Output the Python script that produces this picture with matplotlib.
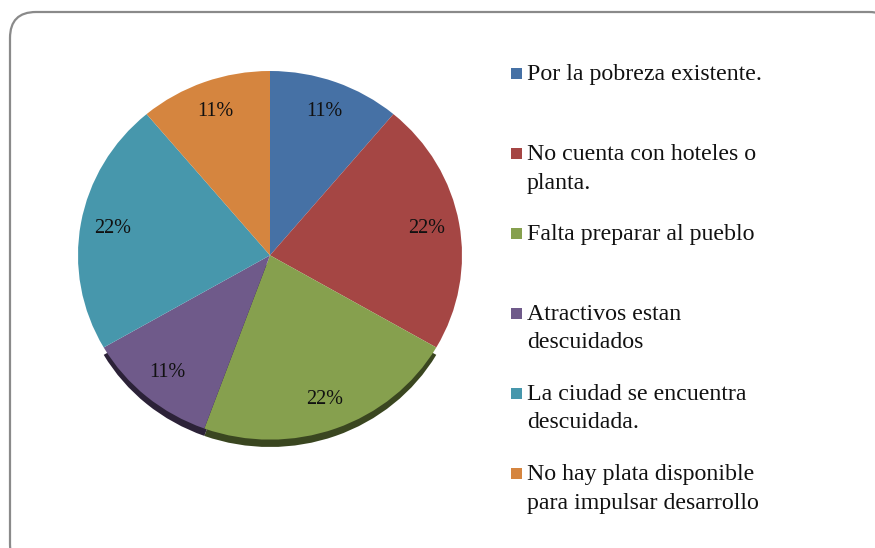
import matplotlib
matplotlib.use("Agg")
import matplotlib.pyplot as plt
from matplotlib.patches import FancyBboxPatch, Rectangle
import numpy as np

categories = [
    "Por la pobreza existente.",
    "No cuenta con hoteles o\nplanta.",
    "Falta preparar al pueblo",
    "Atractivos estan\ndescuidados",
    "La ciudad se encuentra\ndescuidada.",
    "No hay plata disponible\npara impulsar desarrollo",
]
values = [11, 22, 22, 11, 22, 11]
pct_labels = ["11%", "22%", "22%", "11%", "22%", "11%"]
colors = ["#4671A5", "#A54644", "#86A04E", "#6F5A8A", "#4797AC", "#D5853F"]
shadow_colors = ["none", "none", "#3a4620", "#2c2238", "none", "none"]

FONT = "Liberation Serif"
W, H = 875, 548
fig = plt.figure(figsize=(W / 100, H / 100), dpi=100)

bg = fig.add_axes([0, 0, 1, 1])
bg.set_xlim(0, W)
bg.set_ylim(H, 0)
bg.axis("off")
frame = FancyBboxPatch((10, 12), 885, 558,
                       boxstyle="round,pad=0,rounding_size=26",
                       fc="white", ec="#8a8a8a", lw=1.6, clip_on=False)
bg.add_patch(frame)

# legend (manual, pixel coords)
first_baseline = [80, 160, 240, 320, 400, 480]
line_gap = 28.5
for lab, col, yb in zip(categories, colors, first_baseline):
    bg.add_patch(Rectangle((511, yb - 12), 11, 11, fc=col, ec="none"))
    for i, line in enumerate(lab.split("\n")):
        bg.text(527, yb + i * line_gap, line, fontsize=17.2, family=FONT,
                va="baseline", ha="left", color="#111111")

# pie
l, r, t, b = 78, 462, 71, 447
ax = fig.add_axes([l / W, 1 - b / H, (r - l) / W, (b - t) / H])
ax.pie(values, colors=shadow_colors, startangle=90, counterclock=False,
       radius=1.0, center=(0, -0.04), wedgeprops=dict(linewidth=0))
ax.pie(values, colors=colors, startangle=90, counterclock=False,
       radius=1.0, center=(0, 0), wedgeprops=dict(linewidth=0))
ang = 90.0
total = sum(values)
for v, lab in zip(values, pct_labels):
    span = 360.0 * v / total
    mid = np.deg2rad(ang - span / 2)
    ang -= span
    d = 0.83
    ax.text(d * np.cos(mid), d * np.sin(mid), lab, ha="center", va="center",
            fontsize=14.5, family=FONT, color="#111111")
ax.set_xlim(-1, 1)
ax.set_ylim(-1.04, 1)
ax.set_aspect("auto")
ax.axis("off")

fig.savefig("out.png", dpi=100)
